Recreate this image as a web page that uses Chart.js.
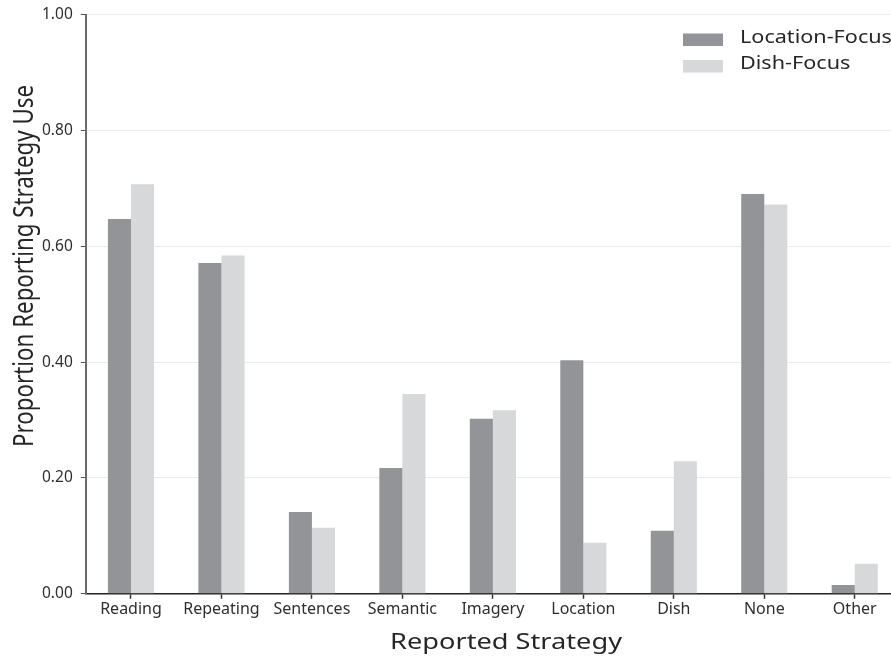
<!DOCTYPE html>
<html>
<head>
<meta charset="utf-8">
<script src="https://cdn.jsdelivr.net/npm/chart.js@4.4.1/dist/chart.umd.min.js"></script>
<style>
  html, body { margin: 0; padding: 0; background: #fff; overflow: hidden; }
  #myChart { display: block; }
</style>
</head>
<body>
<canvas id="myChart" width="900" height="658"></canvas>
<script>
var strategies = ['Reading', 'Repeating', 'Sentences', 'Semantic', 'Imagery', 'Location', 'Dish', 'None', 'Other'];
var locationFocus = [0.647, 0.571, 0.141, 0.217, 0.302, 0.403, 0.109, 0.690, 0.015];
var dishFocus = [0.707, 0.584, 0.114, 0.345, 0.317, 0.088, 0.229, 0.672, 0.052];
var yTicks = [0, 0.2, 0.4, 0.6, 0.8, 1.0];
var xTitle = 'Reported Strategy';
var yTitle = 'Proportion Reporting Strategy Use';

var fontFamily = '"Noto Sans", sans-serif';

// draw a line of text squeezed/stretched along its own direction to a given length
function fitText(ctx, text, len) {
  var w = ctx.measureText(text).width;
  ctx.save();
  ctx.scale(len / w, 1);
  ctx.fillText(text, 0, 0);
  ctx.restore();
}

// axis titles and the legend are painted straight onto the canvas
var extras = {
  id: 'extras',
  afterDraw: function (chart) {
    var ctx = chart.ctx;
    ctx.save();
    ctx.fillStyle = '#262626';
    ctx.textAlign = 'center';
    ctx.textBaseline = 'alphabetic';

    ctx.font = '22px ' + fontFamily;
    ctx.save();
    ctx.translate(506, 649);
    fitText(ctx, xTitle, 232);
    ctx.restore();

    ctx.font = '28px ' + fontFamily;
    ctx.save();
    ctx.translate(33, 266);
    ctx.rotate(-Math.PI / 2);
    fitText(ctx, yTitle, 362);
    ctx.restore();

    ctx.textAlign = 'left';
    ctx.font = '18px ' + fontFamily;
    chart.data.datasets.forEach(function (ds, i) {
      var y = 39.5 + i * 26.5;
      ctx.fillStyle = ds.backgroundColor;
      ctx.fillRect(683, y - 6, 40, 12.5);
      ctx.fillStyle = '#262626';
      ctx.save();
      ctx.translate(740, y + 3);
      ctx.scale(1.2, 1);
      ctx.fillText(ds.label, 0, 0);
      ctx.restore();
    });
    ctx.restore();
  }
};

var ctx = document.getElementById('myChart').getContext('2d');
var myChart = new Chart(ctx, {
  type: 'bar',
  data: {
    labels: strategies,
    datasets: [{
      label: 'Location-Focus',
      data: locationFocus,
      backgroundColor: '#939497',
      borderWidth: 0
    }, {
      label: 'Dish-Focus',
      data: dishFocus,
      backgroundColor: '#d7d8da',
      borderWidth: 0
    }]
  },
  plugins: [extras],
  options: {
    responsive: false,
    animation: false,
    layout: {
      padding: { left: 34, right: 0, top: 0, bottom: 38 }
    },
    datasets: {
      bar: { categoryPercentage: 0.51, barPercentage: 1.0 }
    },
    scales: {
      x: {
        grid: {
          offset: false,
          drawOnChartArea: false,
          tickLength: 5,
          tickColor: '#333',
          tickWidth: 1.5
        },
        border: { color: '#222', width: 1.5 },
        ticks: {
          color: '#2e2e2e',
          padding: 1,
          font: { family: fontFamily, size: 16 }
        }
      },
      y: {
        min: 0,
        max: 1,
        afterBuildTicks: function (axis) {
          axis.ticks = yTicks.map(function (v) { return { value: v }; });
        },
        grid: {
          color: '#ebebeb',
          lineWidth: 1,
          tickLength: 5,
          tickColor: '#555'
        },
        border: { color: '#6a6a6a', width: 2 },
        ticks: {
          color: '#2e2e2e',
          padding: 8,
          font: { family: fontFamily, size: 15.5, lineHeight: 0.84 },
          callback: function (v) { return Number(v).toFixed(2); }
        }
      }
    },
    plugins: {
      legend: { display: false },
      tooltip: { enabled: false }
    }
  }
});
</script>
</body>
</html>
